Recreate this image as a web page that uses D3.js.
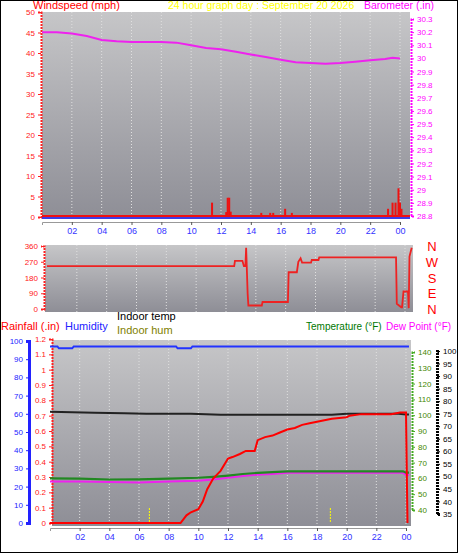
<!DOCTYPE html><html><head><meta charset="utf-8">
<script src="https://cdn.jsdelivr.net/npm/d3@7"></script>
<style>body{margin:0;background:#fff}text{font-family:"Liberation Sans",Arial,sans-serif}</style></head><body>
<script>
const hourTicks=["02","04","06","08","10","12","14","16","18","20","22","00"];
const baroH=[0,1,2,3,4,5,6,7,8,9,10,11,12,13,14,15,16,17,18,19,20,21,22,23,23.5,24];
const baroV=[30.2,30.2,30.19,30.17,30.14,30.13,30.125,30.125,30.125,30.12,30.1,30.08,30.07,30.05,30.03,30.01,29.99,29.97,29.965,29.96,29.965,29.975,29.985,29.995,30.005,30.0];
const windH=[11.4,12.35,12.45,12.55,12.65,14.7,15.3,15.5,16.3,16.75,23.2,23.5,23.7,23.9,24.0,24.1];
const windV=[3.5,1.2,4.7,4.7,1.3,1,1,1,2,1,2,3.5,3.5,7,3.5,2];
const dirH=[0,12.55,12.6,13.1,13.2,13.3,13.35,13.45,13.5,14.4,14.45,16.15,16.2,16.75,16.85,17.0,17.1,17.7,17.75,18.2,18.25,23.4,23.45,23.75,23.8,23.9,24.2,24.25,24.3,24.45];
const dirV=[245,245,275,275,245,245,350,90,20,20,40,40,210,210,270,290,265,265,280,280,295,295,30,10,10,100,100,5,300,350];
const humH=[0,0.5,0.6,1.5,1.6,8.5,8.6,9.5,9.6,24.2];
const humV=[97,97,96,96,97,97,96,96,97,97];
const rainH=[0,8.8,9.2,9.5,10,10.3,10.6,11,11.5,12,12.3,12.8,13.2,13.8,14,14.5,15,15.5,16,16.5,17,17.5,18,18.5,19,20,20.2,21,23,23.6,24,24.1];
const rainV=[0,0,0.05,0.07,0.09,0.14,0.22,0.29,0.34,0.42,0.43,0.45,0.47,0.47,0.54,0.56,0.57,0.59,0.61,0.62,0.64,0.65,0.66,0.67,0.68,0.69,0.7,0.71,0.71,0.72,0.72,0];
const inTempH=[0,1.5,3,5,6.5,9.5,11.5,16,19,20,23.5,24,24.2];
const inTempV=[75.8,75.6,75.4,75.2,75,75,74.6,74.6,74.6,75,75,74.7,74.7];
const tempH=[0,2,4,6,8,10,11,12,13,14,15,16,20,23.8,24,24.2];
const tempV=[60,59.8,59.3,59.4,59.8,60.4,61,61.8,62.8,63.5,64,64.5,64.5,64.5,63.6,63.6];
const dewH=[0,2,4,6,8,10,11,12,13,14,15,16,20,23.8,24,24.2];
const dewV=[48,48,47.8,47.6,48,48.3,48.8,49.5,50.2,50.7,51,51.4,51.4,51.4,50.6,50.6];
const sunH=[6.7,18.9];

const W=458,H=553;
const svg=d3.select("body").append("svg").attr("width",W).attr("height",H);
svg.append("rect").attr("x",0.5).attr("y",0.5).attr("width",W-1).attr("height",H-1).attr("fill","#fff").attr("stroke","#000");
const defs=svg.append("defs");
const g=defs.append("linearGradient").attr("id","bg").attr("x1",0).attr("x2",0).attr("y1",0).attr("y2",1);
g.append("stop").attr("offset","0").attr("stop-color","#c6c6c8");
g.append("stop").attr("offset","1").attr("stop-color","#8e8e96");
function txt(x,y,s,c,a,fs){return svg.append("text").attr("x",x).attr("y",y).attr("fill",c).attr("font-size",fs||11).attr("text-anchor",a||"start").text(s);}
function panel(x0,x1,y0,y1,x){
 svg.append("rect").attr("x",x0).attr("y",y0).attr("width",x1-x0).attr("height",y1-y0).attr("fill","url(#bg)");
 const gr=svg.append("g").attr("stroke","#e0e0e0").attr("stroke-dasharray","1,2").attr("stroke-width",1);
 d3.range(2,25,2).forEach(h=>gr.append("line").attr("x1",x(h)).attr("x2",x(h)).attr("y1",y0).attr("y2",y1));
}
function yAxis(scale,xpos,ticks,color,right,fmt){
 const ax=(right?d3.axisRight(scale):d3.axisLeft(scale)).tickValues(ticks).tickSize(3).tickFormat(fmt||(d=>d));
 const gg=svg.append("g").attr("transform",`translate(${xpos},0)`).call(ax);
 gg.selectAll("text").attr("fill",color).attr("font-size",8);
 gg.selectAll("line,path").attr("stroke",color);
 gg.select("path").attr("stroke-width",2).attr("stroke-dasharray","2,1");
 return gg;
}
function xAxis(x,y){
 const gg=svg.append("g").attr("transform",`translate(0,${y})`).call(d3.axisBottom(x).tickValues(d3.range(2,25,2)).tickSize(3).tickFormat((d,i)=>hourTicks[i]));
 gg.selectAll("text").attr("fill","#3333ff").attr("font-size",9).attr("dy",6);
 gg.selectAll("line").attr("stroke","#555");gg.select("path").attr("stroke","#999");
}
// ---- top panel
const x1=d3.scaleLinear([0,24],[42,400]);
panel(42,410,12,219,x1);
const yW=d3.scaleLinear([0,50],[217,12]);
const yB=d3.scaleLinear([28.8,30.3],[216,19]);
yAxis(yW,41,d3.range(0,51,5),"#ff2020",false);
yAxis(yB,411,d3.range(28.8,30.31,0.1).map(v=>+v.toFixed(1)),"#ff00ff",true);
svg.append("line").attr("x1",42).attr("x2",410).attr("y1",yW(0)-1).attr("y2",yW(0)-1).attr("stroke","#ee1111").attr("stroke-width",2);
svg.append("line").attr("x1",42).attr("x2",410).attr("y1",218).attr("y2",218).attr("stroke","#2222ff").attr("stroke-width",1.5);
svg.selectAll(".wb").data(windH).join("rect").attr("x",d=>x1(d)-1).attr("width",2).attr("y",(d,i)=>yW(windV[i])).attr("height",(d,i)=>yW(0)-yW(windV[i])).attr("fill","#ee1111");
svg.append("path").datum(baroH).attr("d",d3.line().x(d=>x1(d)).y((d,i)=>yB(baroV[i]))).attr("fill","none").attr("stroke","#ee22ee").attr("stroke-width",2);
xAxis(x1,222);
txt(33,9,"Windspeed (mph)","#ff0000",null,11);
txt(168,9,"24 hour graph day : September 20 2026","#ffff00",null,10.5);
txt(364,9,"Barometer (.in)","#ff00ff",null,10.5);
// ---- direction panel
const x2=d3.scaleLinear([0,24],[47,405]);
panel(45,413,245,312,x2);
const yD=d3.scaleLinear([0,360],[309,246]);
yAxis(yD,44,[0,90,180,270,360],"#ff2020",false);
svg.append("path").datum(dirH).attr("d",d3.line().x(d=>x2(d)).y((d,i)=>yD(dirV[i]))).attr("fill","none").attr("stroke","#ee2222").attr("stroke-width",1.8);
["N","W","S","E","N"].forEach((s,i)=>txt(432,yD(360-i*90)+5,s,"#ff0000","middle",13));
// ---- bottom panel
const x3=d3.scaleLinear([0,24],[50,406]);
panel(52,411,340,526,x3);
const yH=d3.scaleLinear([0,100],[523,341]);
const yR=d3.scaleLinear([0,1.2],[523,339]);
const yT=d3.scaleLinear([40,140],[510,352]);
const yDp=d3.scaleLinear([35,100],[514,351]);
const ha=yAxis(yH,29,d3.range(0,101,10),"#2222ff",false);ha.select("path").attr("stroke-width",3).attr("stroke-dasharray",null);
yAxis(yR,52,d3.range(0,1.21,0.1).map(v=>+v.toFixed(1)),"#ff2020",false);
const ta=yAxis(yT,412,d3.range(40,141,10),"#44aa22",true);
ta.selectAll("text").attr("fill","#448800");
const da=yAxis(yDp,437,d3.range(35,101,5),"#000",true);da.select("path").attr("stroke-width",3);
sunH.forEach(h=>svg.append("line").attr("x1",x3(h)).attr("x2",x3(h)).attr("y1",508).attr("y2",523).attr("stroke","#ffff00").attr("stroke-dasharray","2,1"));
const L=(hs,vs,y)=>d3.line().x(d=>x3(d)).y((d,i)=>y(vs[i]))(hs);
svg.append("path").attr("d",L(inTempH,inTempV,yDp)).attr("fill","none").attr("stroke","#222").attr("stroke-width",2);
svg.append("path").attr("d",L(dewH,dewV,yDp)).attr("fill","none").attr("stroke","#ee22ee").attr("stroke-width",2);
svg.append("path").attr("d",L(tempH,tempV,yT)).attr("fill","none").attr("stroke","#228822").attr("stroke-width",2.2);
svg.append("path").attr("d",L(humH,humV,yH)).attr("fill","none").attr("stroke","#2233ff").attr("stroke-width",2);
svg.append("path").attr("d",L(rainH,rainV,yR)).attr("fill","none").attr("stroke","#ff0000").attr("stroke-width",2);
xAxis(x3,528);
txt(1,330,"Rainfall (.in)","#ff0000",null,11);
txt(65,330,"Humidity","#2222ff",null,11);
txt(117,320,"Indoor temp","#000",null,11);
txt(117,334,"Indoor hum","#808000",null,11);
txt(306,330,"Temperature (°F)","#007700",null,10);
txt(386,330,"Dew Point (°F)","#ff00ff",null,10);
</script></body></html>
